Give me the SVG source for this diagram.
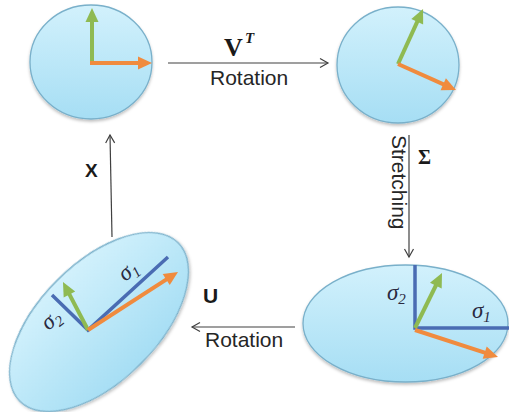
<svg xmlns="http://www.w3.org/2000/svg" width="509" height="412" viewBox="0 0 509 412">
<defs>
<linearGradient id="fillg" x1="0" y1="0" x2="0" y2="1">
<stop offset="0" stop-color="#d2f1fc"/>
<stop offset="1" stop-color="#a6def4"/>
</linearGradient>
<filter id="sh" x="-10%" y="-10%" width="120%" height="125%">
<feDropShadow dx="0" dy="2" stdDeviation="1.5" flood-color="#000" flood-opacity="0.25"/>
</filter>
<marker id="ah" markerUnits="userSpaceOnUse" markerWidth="10" markerHeight="10" refX="8" refY="5" orient="auto" overflow="visible">
<path d="M0,0.5 L8,5 L0,9.5" fill="none" stroke="#404040" stroke-width="1.2"/>
</marker>
<marker id="hg" markerUnits="userSpaceOnUse" markerWidth="14" markerHeight="13" refX="4" refY="6.5" orient="auto" overflow="visible">
<path d="M0,0 L14,6.5 L0,13 z" fill="#8fba52"/>
</marker>
<marker id="ho" markerUnits="userSpaceOnUse" markerWidth="14" markerHeight="13" refX="4" refY="6.5" orient="auto" overflow="visible">
<path d="M0,0 L14,6.5 L0,13 z" fill="#f08b3e"/>
</marker>
</defs>
<style>
.shape{fill:url(#fillg);stroke:#79b0ca;stroke-width:1.3;filter:url(#sh)}
.g{stroke:#8fba52;stroke-width:4;fill:none;marker-end:url(#hg)}
.o{stroke:#f08b3e;stroke-width:4;fill:none;marker-end:url(#ho)}
.ax{stroke:#4a6cb3;stroke-width:3.5;fill:none;stroke-linejoin:miter}
.conn{stroke:#404040;stroke-width:1.2;fill:none;marker-end:url(#ah)}
.lbl{font-family:"Liberation Sans",Arial,sans-serif;font-size:21px;fill:#262626}
.bold{font-family:"Liberation Sans",Arial,sans-serif;font-weight:bold;fill:#1a1a1a}
.math{font-family:"Liberation Serif","Times New Roman",serif;fill:#1a1a1a}
.sig{font-family:"Liberation Serif","Times New Roman",serif;font-style:italic;font-size:23px;fill:#2a2a40}
</style>

<g id="connectors">
<line class="conn" x1="168" y1="63" x2="328" y2="63"/>
<line class="conn" x1="409" y1="135" x2="409" y2="257"/>
<line class="conn" x1="295" y1="327" x2="192" y2="327"/>
<line class="conn" x1="112" y1="237" x2="110" y2="135"/>
</g>

<g id="node-top-left">
<ellipse class="shape" cx="91" cy="62" rx="61" ry="57"/>
<line class="g" x1="92" y1="65" x2="92" y2="18"/>
<line class="o" x1="90" y1="63" x2="142" y2="63"/>
</g>

<g id="node-top-right">
<ellipse class="shape" cx="398" cy="65" rx="61" ry="58"/>
<line class="g" x1="398" y1="64" x2="418.9" y2="18.1"/>
<line class="o" x1="398" y1="64" x2="446.9" y2="85.9"/>
</g>

<g id="node-bottom-right">
<ellipse class="shape" cx="405.5" cy="323.5" rx="102.5" ry="58.5"/>
<polyline class="ax" points="415,265 415,328 509,328"/>
<line class="g" x1="415" y1="328" x2="437.6" y2="282"/>
<line class="o" x1="415" y1="330" x2="488.5" y2="353.9"/>
<text class="sig" x="387" y="300">σ<tspan font-size="15" dy="4">2</tspan></text>
<text class="sig" x="472" y="318">σ<tspan font-size="15" dy="4">1</tspan></text>
</g>

<g id="node-bottom-left">
<ellipse class="shape" cx="0" cy="0" rx="112" ry="59" transform="translate(99,322) rotate(-45)"/>
<polyline class="ax" points="52,295 88,330 168,257"/>
<line class="g" x1="88" y1="330" x2="67.6" y2="290.9"/>
<line class="o" x1="88" y1="330" x2="169.6" y2="277.4"/>
<text class="sig" transform="translate(125,282) rotate(-38)">σ<tspan font-size="15" dy="4">1</tspan></text>
<text class="sig" transform="translate(48,331) rotate(-38)">σ<tspan font-size="15" dy="4">2</tspan></text>
</g>

<g id="labels">
<text class="math" x="224" y="56" font-size="26" font-weight="bold">V</text>
<text class="math" x="245" y="43" font-size="15" font-weight="bold" font-style="italic">T</text>
<text class="lbl" x="210" y="85">Rotation</text>
<text class="lbl" transform="translate(392,135) rotate(90)">Stretching</text>
<text class="math" x="418" y="164" font-size="20" font-weight="bold">Σ</text>
<text class="bold" x="203" y="303" font-size="21">U</text>
<text class="lbl" x="205" y="347" font-size="20">Rotation</text>
<text class="bold" x="85" y="177" font-size="19">X</text>
</g>
</svg>
